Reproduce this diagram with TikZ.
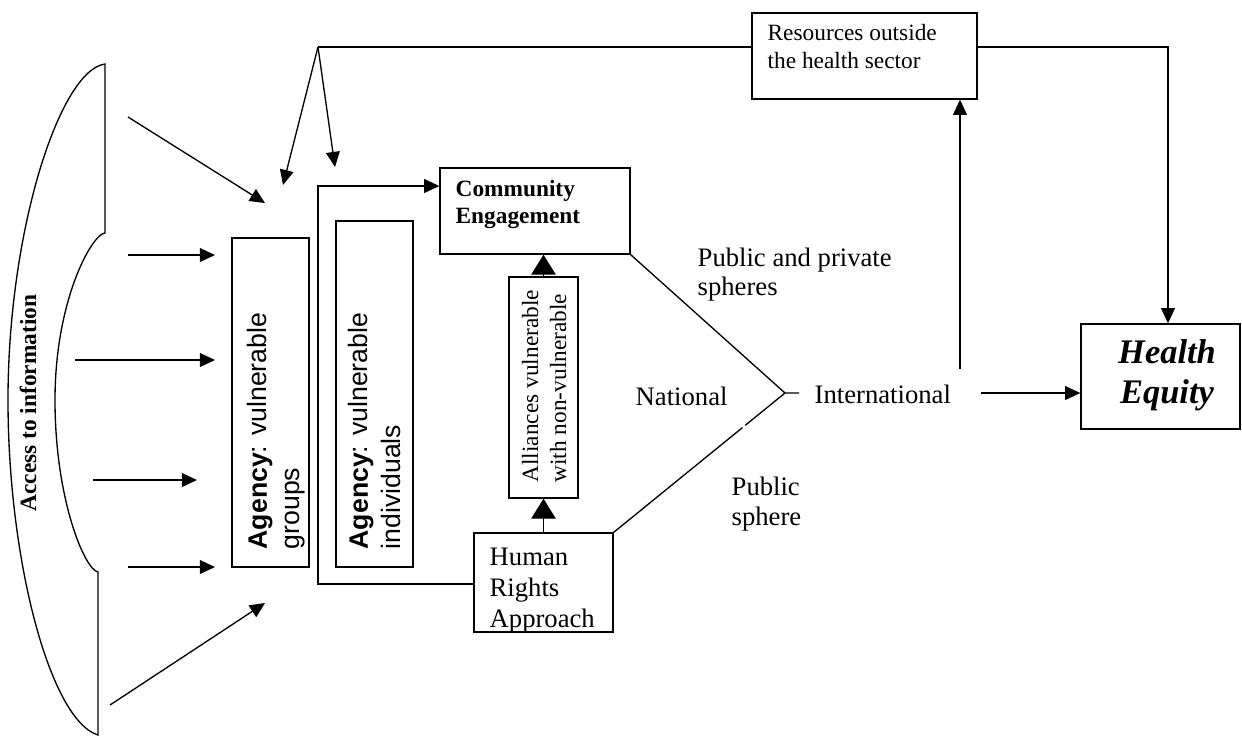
\documentclass[tikz,border=0pt]{standalone}
\usepackage{fontspec}
\setmainfont{Liberation Serif}
\newfontfamily\arialfont{Liberation Sans}
\usetikzlibrary{arrows.meta,fit,calc}
\begin{document}
\begin{tikzpicture}[x=0.45pt,y=-0.45pt,line width=0.6pt,
  box/.style={draw,inner sep=0pt},
  arr/.style={-{Triangle[length=6.8pt,width=6.2pt]}},
  bigarr/.style={-{Triangle[length=9pt,width=11pt]}},
  t12/.style={inner sep=0pt,align=left,font=\fontsize{12}{13.8}\selectfont},
  t105/.style={inner sep=0pt,align=left,font=\fontsize{10.5}{12.2}\selectfont},
  sans/.style={inner sep=0pt,align=left,rotate=90,anchor=base west,font=\arialfont\fontsize{12}{14.5}\selectfont},
]
\useasboundingbox (0,0) rectangle (1242,738);

% brace-like shape
\draw (98,735) -- (98,572) .. controls (85,570) and (55,500) .. (55,400)
  .. controls (55,300) and (92,234) .. (105,233) -- (105,64)
  .. controls (60,70) and (8,230) .. (8,400)
  .. controls (8,560) and (50,720) .. (98,735) -- cycle;
\node[rotate=90,inner sep=0pt,font=\bfseries\fontsize{10.5}{12}\selectfont] (acc) at (28,403) {Access to information};

% boxes
\node[box,fit={(232,238)(309,567)}] (ag) {};
\node[box,fit={(336,221)(413,567)}] (ai) {};
\node[box,fit={(440,168)(630,254)}] (ce) {};
\node[box,fit={(509,277)(578,498)}] (al) {};
\node[box,fit={(474,533)(613,632)}] (hr) {};
\node[box,fit={(752,13)(977,99)}] (res) {};
\node[box,fit={(1081,324)(1240,429)}] (he) {};

% texts (base anchor = baseline of the last line)
\node[sans] (agt) at (299,550) {\textbf{Agency}: vulnerable\\groups};
\node[sans] (ait) at (400,550) {\textbf{Agency}: vulnerable\\individuals};
\node[t105,font=\bfseries\fontsize{10.5}{11.8}\selectfont,anchor=base west] (cet) at (455,223) {Community\\Engagement};
\node[t105,rotate=90,anchor=base west,font=\fontsize{10.5}{12.6}\selectfont] (alt) at (566,483) {Alliances vulnerable\\with non-vulnerable};
\node[t12,anchor=base west] (hrt) at (489,627) {Human\\Rights\\Approach};
\node[t105,anchor=base west] (rest) at (767,68) {Resources outside\\the health sector};
\node[t12,anchor=base west,font=\fontsize{12}{12.8}\selectfont] (pp) at (697,295) {Public and private\\spheres};
\node[t12,anchor=base west,font=\fontsize{12}{13.5}\selectfont] (ps) at (731,525) {Public\\sphere};
\node[t12,anchor=base west] (nat) at (635,405) {National};
\node[t12,anchor=base west] (intl) at (814,403) {International};
\node[inner sep=0pt,align=center,anchor=base,font=\bfseries\itshape\fontsize{15.5}{18}\selectfont] (het) at (1167,403) {Health\\Equity};

% left arrows
\coordinate (a1) at (128,117); \coordinate (g1) at (265,203);
\coordinate (a2) at (128,255); \coordinate (g2) at (215,255);
\coordinate (a3) at (75,360);  \coordinate (g3) at (215,360);
\coordinate (a4) at (93,480);  \coordinate (g4) at (197,480);
\coordinate (a5) at (128,567); \coordinate (g5) at (215,567);
\coordinate (a6) at (110,705); \coordinate (g6) at (265,603);
\foreach \i in {1,...,6} {\draw[arr] (a\i) -- (g\i);}

% top feedback
\coordinate (apx) at (318,47);
\coordinate (t1) at (283,185);
\coordinate (t2) at (335,167);
\draw (res.west |- apx) -- (apx);
\draw[arr] (apx) -- (t1);
\draw[arr] (apx) -- (t2);

% bracket from human rights to community engagement
\coordinate (brk) at (318,186);
\coordinate (brb) at (318,584);
\draw[arr] (brb -| hr.west) -- (brb) -- (brk) -- (brk -| ce.west);

% alliances arrows
\draw[bigarr] (hr.north -| al.south) -- (al.south);
\draw[bigarr] (al.north) -- (al.north |- ce.south);

% diamond
\coordinate (apex) at (785,393);
\coordinate (stub) at (799,393);
\draw (ce.south east) -- (apex) -- (stub);
\draw (hr.north east) -- ($(hr.north east)!0.752!(apex)$);
\draw ($(hr.north east)!0.768!(apex)$) -- (apex);

% right side
\coordinate (i1) at (981,393);
\draw[arr] (i1) -- (i1 -| he.west);
\coordinate (v1) at (960,369);
\draw[arr] (v1) -- (v1 |- res.south);
\coordinate (rt) at (1168,47);
\draw[arr] (rt -| res.east) -- (rt) -- (rt |- he.north);
\end{tikzpicture}
\end{document}
